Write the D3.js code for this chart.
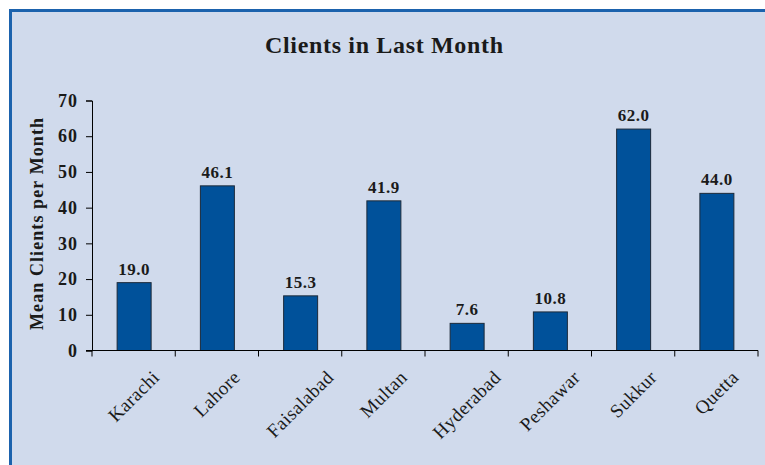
<!DOCTYPE html>
<html>
<head>
<meta charset="utf-8">
<script src="https://cdn.jsdelivr.net/npm/d3@7"></script>
<style>
  body { margin: 0; background: #fff; }
  svg { display: block; }
  text { font-family: "Liberation Serif", "DejaVu Serif", serif; fill: #1a1a1a; }
</style>
</head>
<body>
<div id="chart"></div>
<script>
// data
const cities = ['Karachi', 'Lahore', 'Faisalabad', 'Multan', 'Hyderabad', 'Peshawar', 'Sukkur', 'Quetta'];
const clients = [19.0, 46.1, 15.3, 41.9, 7.6, 10.8, 62.0, 44.0];
const yTicks = [0, 10, 20, 30, 40, 50, 60, 70];

const width = 765, height = 465;
const margin = {top: 100, right: 7, bottom: 115, left: 92};

const svg = d3.select('#chart').append('svg')
  .attr('width', width)
  .attr('height', height);

// frame
svg.append('rect')
  .attr('x', 10.5).attr('y', 10.5)
  .attr('width', width + 20).attr('height', height + 20)
  .attr('fill', '#d0daec')
  .attr('stroke', '#1b62ad')
  .attr('stroke-width', 3);

const x = d3.scaleBand()
  .domain(cities)
  .range([margin.left, width - margin.right])
  .padding(0);

const y = d3.scaleLinear()
  .domain([0, 70])
  .range([350.5, 100.5]);

svg.append('text')
  .attr('x', 384).attr('y', 53)
  .attr('text-anchor', 'middle')
  .attr('textLength', 238)
  .attr('lengthAdjust', 'spacing')
  .style('font-size', '24px')
  .style('font-weight', 'bold')
  .text('Clients in Last Month');

// y axis
const yAxis = svg.append('g')
  .attr('transform', `translate(${margin.left},0)`)
  .call(d3.axisLeft(y).tickValues(yTicks).tickSize(6).tickPadding(9).tickFormat(d3.format('d')));
yAxis.selectAll('path, line').attr('stroke', '#000');
yAxis.selectAll('text')
  .style('font-size', '18px')
  .style('font-weight', 'bold')
  .style('font-family', '"Liberation Serif", serif')
  .style('letter-spacing', '1px')
  .attr('dx', '1px')
  .attr('fill', '#1a1a1a');

svg.append('text')
  .attr('transform', 'translate(43,224) rotate(-90)')
  .attr('text-anchor', 'middle')
  .attr('textLength', 212)
  .attr('lengthAdjust', 'spacing')
  .style('font-size', '18px')
  .style('font-weight', 'bold')
  .text('Mean Clients per Month');

// bars
const barW = 34;
svg.selectAll('rect.bar')
  .data(cities)
  .join('rect')
  .attr('class', 'bar')
  .attr('x', d => x(d) + x.bandwidth() / 2 - barW / 2 + 0.5)
  .attr('y', (d, i) => y(clients[i]))
  .attr('width', barW)
  .attr('height', (d, i) => y(0) - y(clients[i]))
  .attr('fill', '#00519a')
  .attr('stroke', '#1c2a3a')
  .attr('stroke-width', 1);

svg.selectAll('text.val')
  .data(cities)
  .join('text')
  .attr('class', 'val')
  .attr('x', d => x(d) + x.bandwidth() / 2 + 0.5)
  .attr('y', (d, i) => y(clients[i]) - 8)
  .attr('text-anchor', 'middle')
  .style('font-size', '17px')
  .style('font-weight', 'bold')
  .style('letter-spacing', '0.5px')
  .text((d, i) => d3.format('.1f')(clients[i]));

// x axis
const xAxis = svg.append('g')
  .attr('transform', `translate(0,${y(0)})`)
  .call(d3.axisBottom(x).tickSize(0).tickFormat(''));
xAxis.select('.domain').attr('stroke', '#000').attr('d', `M${margin.left - 6},0H${width - margin.right}`);
xAxis.selectAll('.tick').remove();
xAxis.selectAll('line.sep')
  .data(d3.range(cities.length + 1))
  .join('line')
  .attr('class', 'sep')
  .attr('x1', i => margin.left + i * x.step())
  .attr('x2', i => margin.left + i * x.step())
  .attr('y1', 0).attr('y2', 6)
  .attr('stroke', '#000');

// rotated category labels, box top near y=370, centred under the band
const labels = svg.selectAll('text.cat')
  .data(cities)
  .join('text')
  .attr('class', 'cat')
  .attr('text-anchor', 'middle')
  .attr('dominant-baseline', 'central')
  .style('font-size', '19px')
  .style('letter-spacing', '0.4px')
  .text(d => d);
labels.each(function(d) {
  const L = this.getComputedTextLength();
  const h = 14;
  const cx = x(d) + x.bandwidth() / 2;
  const cy = 369 + (L + h) * Math.SQRT1_2 / 2;
  d3.select(this).attr('transform', `translate(${cx},${cy}) rotate(-45)`);
});
</script>
</body>
</html>
